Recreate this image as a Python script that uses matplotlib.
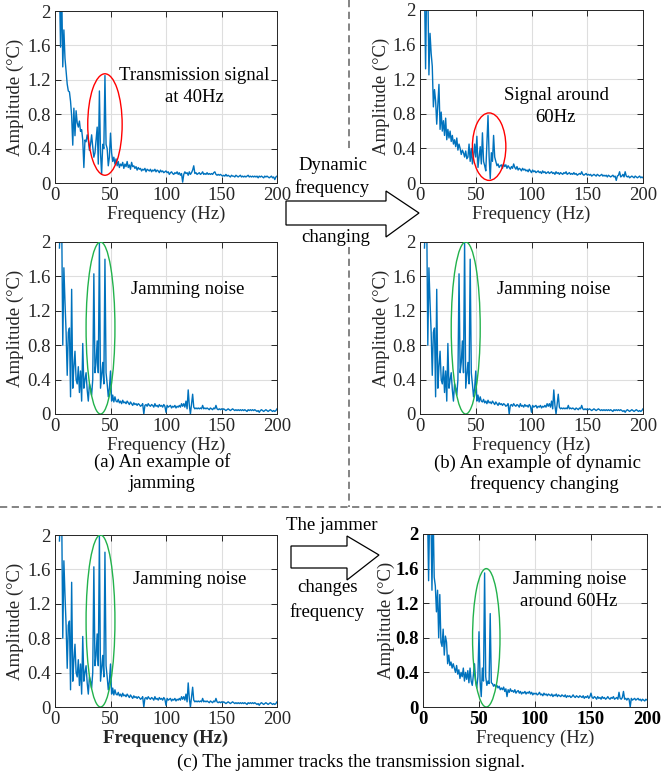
import numpy as np
import matplotlib
matplotlib.use('Agg')
from matplotlib import pyplot as plt
from matplotlib.patches import Ellipse, Polygon

plt.rcParams['font.family'] = ['Liberation Serif', 'DejaVu Serif']

# spectra, 1 Hz steps from 4 Hz to 200 Hz
freq = np.arange(4, 201)

amp_tx40 = [
    2.3, 1.58, 2.3, 1.35, 1.78, 1.45, 1.3, 1.15, 1.07, 1.06,
    0.95, 0.78, 0.44, 0.87, 0.55, 0.84, 0.7, 0.65, 0.72, 0.6,
    0.62, 0.5, 0.18, 0.5, 0.48, 0.56, 0.5, 0.38, 0.45, 0.56,
    0.42, 0.3, 0.35, 0.5, 0.65, 0.22, 1.07, 0.35, 0.1, 0.45,
    0.4, 1.25, 0.45, 0.4, 0.2, 0.3, 0.58, 0.35, 0.25, 0.3,
    0.22, 0.28, 0.2, 0.25, 0.18, 0.22, 0.2, 0.24, 0.17, 0.22,
    0.19, 0.25, 0.18, 0.21, 0.16, 0.24, 0.19, 0.2, 0.17, 0.19,
    0.15, 0.18, 0.16, 0.17, 0.14, 0.16, 0.15, 0.17, 0.13, 0.16,
    0.15, 0.14, 0.16, 0.13, 0.15, 0.14, 0.16, 0.13, 0.15, 0.14,
    0.12, 0.15, 0.13, 0.14, 0.12, 0.13, 0.14, 0.12, 0.13, 0.1,
    0.12, 0.13, 0.11, 0.1, 0.12, 0.11, 0.13, 0.1, 0.12, 0.09,
    0.11, 0.01, 0.1, 0.13, 0.11, 0.12, 0.09, 0.13, 0.1, 0.12,
    0.15, 0.2, 0.11, 0.12, 0.1, 0.11, 0.12, 0.1, 0.11, 0.13,
    0.1, 0.11, 0.1, 0.12, 0.1, 0.11, 0.1, 0.11, 0.1, 0.12,
    0.13, 0.1, 0.09, 0.1, 0.09, 0.1, 0.09, 0.08, 0.09, 0.08,
    0.1, 0.08, 0.09, 0.08, 0.07, 0.09, 0.08, 0.08, 0.07, 0.09,
    0.08, 0.07, 0.08, 0.09, 0.07, 0.08, 0.07, 0.08, 0.07, 0.08,
    0.09, 0.07, 0.08, 0.07, 0.08, 0.07, 0.08, 0.07, 0.08, 0.06,
    0.08, 0.07, 0.08, 0.07, 0.06, 0.08, 0.07, 0.08, 0.07, 0.06,
    0.07, 0.08, 0.06, 0.07, 0.04, 0.07, 0.08,
]

amp_tx60 = [
    2.3, 1.32, 2.3, 2.3, 1.25, 1.73, 1.5, 1.35, 0.88, 1.08,
    0.95, 0.68, 0.9, 1.14, 0.62, 0.82, 0.6, 0.72, 0.55, 0.75,
    0.5, 0.62, 0.52, 0.6, 0.48, 0.55, 0.45, 0.5, 0.42, 0.52,
    0.38, 0.45, 0.4, 0.33, 0.38, 0.35, 0.3, 0.37, 0.28, 0.3,
    0.45, 0.25, 0.4, 0.22, 0.3, 0.45, 0.3, 0.54, 0.18, 0.3,
    0.42, 0.22, 0.58, 0.25, 0.2, 0.14, 0.45, 0.78, 0.3, 0.05,
    0.35, 0.25, 0.55, 0.3, 0.25, 0.2, 0.22, 0.18, 0.2, 0.21,
    0.17, 0.22, 0.19, 0.21, 0.17, 0.2, 0.18, 0.16, 0.19, 0.17,
    0.22, 0.18, 0.16, 0.19, 0.15, 0.17, 0.16, 0.14, 0.17, 0.15,
    0.16, 0.14, 0.15, 0.13, 0.16, 0.14, 0.12, 0.15, 0.13, 0.14,
    0.12, 0.13, 0.14, 0.12, 0.13, 0.11, 0.14, 0.12, 0.13, 0.11,
    0.12, 0.13, 0.11, 0.12, 0.13, 0.11, 0.12, 0.1, 0.13, 0.11,
    0.12, 0.1, 0.12, 0.11, 0.1, 0.12, 0.11, 0.13, 0.1, 0.11,
    0.12, 0.1, 0.11, 0.1, 0.12, 0.1, 0.11, 0.09, 0.1, 0.11,
    0.1, 0.13, 0.1, 0.09, 0.1, 0.11, 0.09, 0.1, 0.09, 0.1,
    0.08, 0.09, 0.1, 0.09, 0.08, 0.1, 0.09, 0.08, 0.09, 0.1,
    0.08, 0.09, 0.08, 0.09, 0.07, 0.09, 0.08, 0.07, 0.08, 0.09,
    0.07, 0.08, 0.03, 0.08, 0.09, 0.13, 0.07, 0.08, 0.1, 0.07,
    0.13, 0.08, 0.07, 0.08, 0.06, 0.07, 0.08, 0.07, 0.06, 0.08,
    0.07, 0.06, 0.07, 0.08, 0.06, 0.07, 0.06,
]

amp_jam40 = [
    1.93, 2.3, 2.3, 0.8, 1.7, 1.3, 0.95, 0.45, 0.95, 1.0,
    0.2, 1.45, 0.3, 0.55, 0.73, 0.4, 0.35, 0.55, 0.25, 0.5,
    0.15, 0.82, 0.3, 0.4, 0.48, 0.28, 0.15, 0.35, 0.3, 0.22,
    0.4, 1.63, 0.48, 0.6, 0.85, 0.48, 2.0, 0.3, 0.45, 0.6,
    0.35, 1.8, 0.48, 0.35, 0.2, 0.3, 0.5, 0.15, 0.22, 0.14,
    0.2, 0.15, 0.14, 0.17, 0.13, 0.15, 0.12, 0.16, 0.13, 0.14,
    0.12, 0.15, 0.13, 0.11, 0.14, 0.12, 0.1, 0.13, 0.11, 0.12,
    0.1, 0.12, 0.11, 0.09, 0.1, 0.12, 0.0, 0.1, 0.11, 0.09,
    0.12, 0.1, 0.09, 0.11, 0.1, 0.08, 0.12, 0.09, 0.1, 0.08,
    0.11, 0.09, 0.1, 0.08, 0.11, 0.09, 0.02, 0.1, 0.08, 0.09,
    0.1, 0.07, 0.09, 0.08, 0.1, 0.07, 0.09, 0.08, 0.1, 0.08,
    0.12, 0.09, 0.12, 0.08, 0.15, 0.06, 0.28, 0.1, 0.0, 0.12,
    0.23, 0.08, 0.06, 0.07, 0.06, 0.07, 0.06, 0.07, 0.06, 0.1,
    0.06, 0.07, 0.06, 0.07, 0.06, 0.05, 0.07, 0.06, 0.05, 0.07,
    0.06, 0.1, 0.06, 0.05, 0.06, 0.05, 0.06, 0.05, 0.06, 0.05,
    0.04, 0.05, 0.06, 0.05, 0.04, 0.05, 0.06, 0.05, 0.04, 0.05,
    0.04, 0.05, 0.04, 0.05, 0.04, 0.05, 0.04, 0.05, 0.04, 0.03,
    0.05, 0.04, 0.05, 0.04, 0.05, 0.04, 0.05, 0.04, 0.03, 0.04,
    0.02, 0.04, 0.05, 0.04, 0.03, 0.04, 0.05, 0.04, 0.03, 0.04,
    0.05, 0.04, 0.03, 0.04, 0.03, 0.04, 0.06,
]

amp_jam60 = [
    2.3, 1.46, 2.3, 2.3, 1.35, 2.3, 1.5, 1.4, 1.1, 1.35,
    0.8, 1.3, 0.75, 0.7, 0.9, 0.6, 0.82, 0.75, 0.5, 0.6,
    0.48, 0.52, 0.45, 0.5, 0.45, 0.4, 0.48, 0.38, 0.43, 0.33,
    0.4, 0.35, 0.45, 0.3, 0.4, 0.32, 0.42, 0.28, 0.45, 0.3,
    0.25, 0.38, 0.5, 0.3, 0.22, 0.35, 0.87, 0.3, 0.12, 0.45,
    0.3, 1.55, 0.35, 0.25, 0.3, 0.27, 1.08, 0.28, 0.27, 0.24,
    0.26, 0.23, 0.25, 0.22, 0.24, 0.2, 0.22, 0.2, 0.23, 0.18,
    0.21, 0.12, 0.2, 0.17, 0.21, 0.18, 0.19, 0.17, 0.2, 0.16,
    0.18, 0.19, 0.16, 0.18, 0.15, 0.17, 0.16, 0.18, 0.15, 0.17,
    0.16, 0.18, 0.15, 0.17, 0.14, 0.16, 0.15, 0.16, 0.14, 0.15,
    0.17, 0.14, 0.15, 0.13, 0.16, 0.14, 0.15, 0.13, 0.15, 0.14,
    0.13, 0.15, 0.12, 0.14, 0.13, 0.15, 0.12, 0.14, 0.13, 0.12,
    0.14, 0.13, 0.12, 0.14, 0.11, 0.13, 0.12, 0.13, 0.11, 0.12,
    0.14, 0.12, 0.11, 0.13, 0.12, 0.11, 0.13, 0.12, 0.11, 0.13,
    0.1, 0.12, 0.11, 0.13, 0.1, 0.12, 0.16, 0.11, 0.1, 0.12,
    0.11, 0.09, 0.12, 0.1, 0.11, 0.09, 0.12, 0.1, 0.11, 0.09,
    0.1, 0.12, 0.1, 0.09, 0.11, 0.1, 0.12, 0.09, 0.1, 0.11,
    0.09, 0.17, 0.1, 0.09, 0.11, 0.18, 0.09, 0.1, 0.08, 0.1,
    0.09, 0.0, 0.1, 0.08, 0.09, 0.1, 0.08, 0.09, 0.1, 0.08,
    0.09, 0.07, 0.09, 0.08, 0.07, 0.09, 0.08,
]

x_ticks = [0, 50, 100, 150, 200]
y_ticks = [0, 0.4, 0.8, 1.2, 1.6, 2.0]
y_tick_labels = ['0', '0.4', '0.8', '1.2', '1.6', '2']

# ellipse marks: centre freq, centre amp, width, height, colour
ell_tx40 = (45, 0.68, 31, 1.18, '#FF0000')
ell_tx60 = (62, 0.42, 30, 0.78, '#FF0000')
ell_jam40 = (41, 1.0, 26, 2.0, '#22B24C')
ell_jam60 = (56.5, 0.8, 24.5, 1.6, '#22B24C')

LINE = '#0072BD'
DARK = '#262626'
FS = 13.5

W, H = 661, 774
fig = plt.figure(figsize=(W / 100, H / 100), dpi=100)


def px_axes(left, top, right, bottom):
    return fig.add_axes([left / W, 1 - bottom / H, (right - left) / W, (bottom - top) / H])


def spectrum(box, amp, ell, bold_ticks=False, bold_xlabel=False, ylab_x=-0.14):
    ax = px_axes(*box)
    ax.plot(freq, amp, color=LINE, lw=1.0)
    cx, cy, ew, eh, ec = ell
    ax.add_patch(Ellipse((cx, cy), ew, eh, fill=False, ec=ec, lw=1.0, zorder=3))
    ax.set_xlim(0, 200)
    ax.set_ylim(0, 2)
    ax.set_xticks(x_ticks)
    ax.set_yticks(y_ticks)
    ax.set_yticklabels(y_tick_labels)
    ax.grid(True, color='#dedede', lw=0.8)
    ax.set_axisbelow(True)
    ax.tick_params(direction='in', length=4, width=0.7, top=True, right=True,
                   labelsize=FS, colors=DARK, pad=3)
    for s in ax.spines.values():
        s.set_color(DARK)
        s.set_linewidth(0.7)
    if bold_ticks:
        for lab in ax.get_xticklabels() + ax.get_yticklabels():
            lab.set_fontweight('bold')
            lab.set_color('black')
    ax.set_xlabel('Frequency (Hz)', fontsize=FS, color=DARK, labelpad=1,
                  fontweight='bold' if bold_xlabel else 'normal')
    ax.set_ylabel('Amplitude (°C)', fontsize=FS, color=DARK)
    ax.yaxis.set_label_coords(ylab_x, 0.5)
    return ax


spectrum((55, 11, 277, 183), amp_tx40, ell_tx40)
spectrum((420, 10, 643, 183), amp_tx60, ell_tx60, ylab_x=-0.135)
spectrum((55, 242, 277, 414), amp_jam40, ell_jam40)
spectrum((420, 242, 643, 414), amp_jam40, ell_jam40, ylab_x=-0.135)
spectrum((55, 535, 277, 707), amp_jam40, ell_jam40, bold_xlabel=True)
spectrum((423, 534, 647, 707), amp_jam60, ell_jam60, bold_ticks=True, ylab_x=-0.125)

# overlay in pixel coordinates for arrows, separators and captions
ov = fig.add_axes([0, 0, 1, 1])
ov.set_xlim(0, W)
ov.set_ylim(H, 0)
ov.axis('off')
ov.patch.set_visible(False)

dash = dict(color='#7a7a7a', lw=1.3, ls=(0, (4, 2.5)))
ov.plot([349, 349], [0, 150], **dash)
ov.plot([349, 349], [247, 507], **dash)
ov.plot([0, W], [507, 507], **dash)

arrow1 = [(286, 201), (386, 201), (386, 191), (419, 213), (386, 237), (386, 225), (286, 225)]
arrow2 = [(291, 546), (347, 546), (347, 536), (379, 555), (347, 580), (347, 568), (291, 568)]
for pts in (arrow1, arrow2):
    ov.add_patch(Polygon(pts, closed=True, fill=False, ec='black', lw=0.9))

txt = dict(fontsize=FS, ha='center', va='center', color='black')
ov.text(194, 75, 'Transmission signal', **txt)
ov.text(194, 98, 'at 40Hz', **txt)
ov.text(556, 95, 'Signal around', **txt)
ov.text(555, 117, '60Hz', **txt)
ov.text(188, 290, 'Jamming noise', **txt)
ov.text(554, 290, 'Jamming noise', **txt)
ov.text(190, 579, 'Jamming noise', **txt)
ov.text(570, 580, 'Jamming noise', **txt)
ov.text(569, 602, 'around 60Hz', **txt)

ov.text(333, 165, 'Dynamic', **txt)
ov.text(332, 188, 'frequency', **txt)
ov.text(336, 237, 'changing', **txt)
ov.text(332, 525, 'The jammer', **txt)
ov.text(327, 588, 'changes', **txt)
ov.text(327, 612, 'frequency', **txt)

ov.text(162, 462, '(a) An example of', **txt)
ov.text(162, 484, 'jamming', **txt)
ov.text(538, 463, '(b) An example of dynamic', **txt)
ov.text(544, 484, 'frequency changing', **txt)
ov.text(351, 762, '(c) The jammer tracks the transmission signal.', **txt)

fig.savefig('out.png', dpi=100)
